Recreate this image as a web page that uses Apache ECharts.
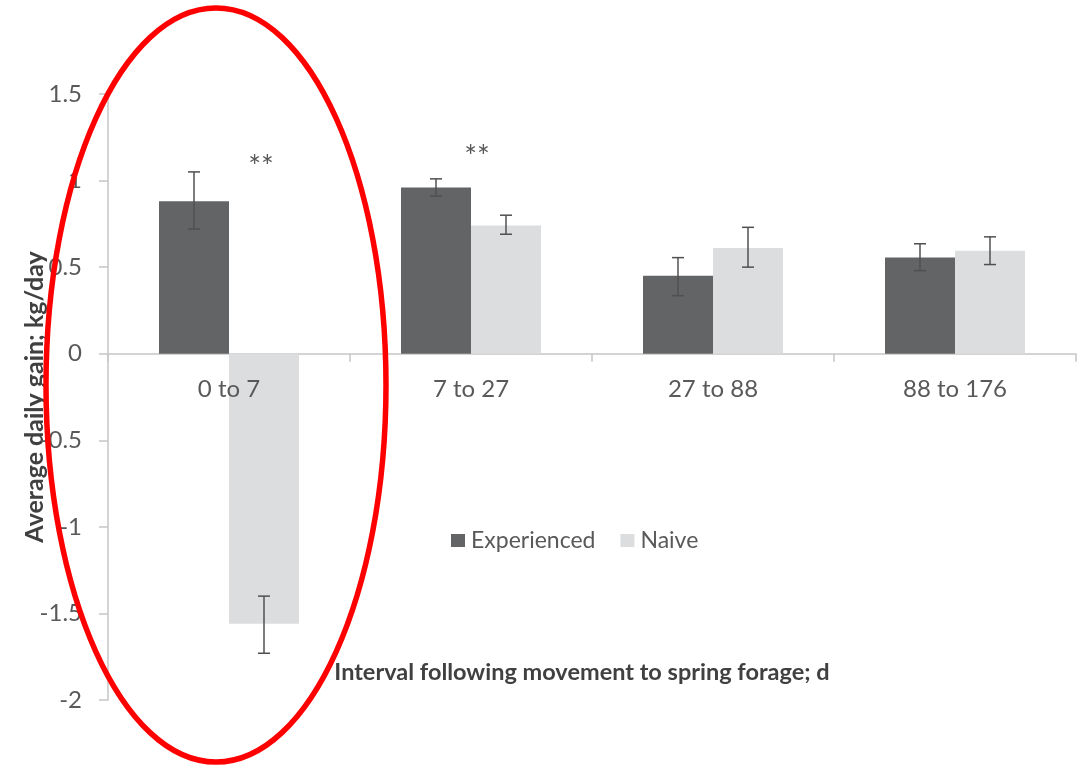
<!DOCTYPE html>
<html>
<head>
<meta charset="utf-8">
<script src="https://cdn.jsdelivr.net/npm/echarts@6/dist/echarts.min.js"></script>
<style>html,body{margin:0;padding:0;background:#fff;}#c{width:1084px;height:765px;}</style>
</head>
<body>
<div id="c"></div>
<script>
const categories = ['0 to 7', '7 to 27', '27 to 88', '88 to 176'];
const experienced = [0.88, 0.96, 0.45, 0.555];
const naive = [-1.56, 0.74, 0.61, 0.595];
const expLow = [0.72, 0.91, 0.335, 0.48];
const expHigh = [1.05, 1.01, 0.555, 0.635];
const naiveLow = [-1.73, 0.69, 0.50, 0.515];
const naiveHigh = [-1.40, 0.80, 0.73, 0.675];
const yTicks = [-2, -1.5, -1, -0.5, 0, 0.5, 1, 1.5];
// significance marks: [category index, y value, pixel x-offset from category centre]
const sigMarks = [[0, 1.11, 32], [1, 1.17, 6]];

const FONT = 'Lato';
const TXT = '#595959';
const AX = '#c6c6c6';
const BW = 70;

const chart = echarts.init(document.getElementById('c'), null, {renderer: 'canvas'});

function errItem(side) {
  return function (params, api) {
    const i = api.value(0);
    const off = side * BW / 2;
    const p1 = api.coord([i, api.value(1)]);
    const p2 = api.coord([i, api.value(2)]);
    const x = p1[0] + off;
    const cap = 6;
    const st = {stroke: '#505050', lineWidth: 1.5};
    return {type: 'group', children: [
      {type: 'line', shape: {x1: x, y1: p1[1], x2: x, y2: p2[1]}, style: st},
      {type: 'line', shape: {x1: x - cap, y1: p1[1], x2: x + cap, y2: p1[1]}, style: st},
      {type: 'line', shape: {x1: x - cap, y1: p2[1], x2: x + cap, y2: p2[1]}, style: st}
    ]};
  };
}

chart.setOption({
  animation: false,
  backgroundColor: '#ffffff',
  grid: {left: 108, right: 8, top: 94, bottom: 65, containLabel: false},
  legend: {
    data: ['Experienced', 'Naive'],
    left: 446, top: 524,
    itemWidth: 14, itemHeight: 13, itemGap: 25,
    icon: 'rect',
    textStyle: {fontFamily: FONT, fontSize: 23, color: TXT, padding: [0, 0, 0, 1]}
  },
  xAxis: {
    type: 'category',
    data: categories,
    axisLine: {onZero: true, lineStyle: {color: AX, width: 1.5}},
    axisTick: {show: true, length: 8, lineStyle: {color: AX, width: 1.5}},
    axisLabel: {show: false}
  },
  yAxis: {
    type: 'value',
    min: -2, max: 1.5, interval: 0.5,
    axisLine: {show: true, lineStyle: {color: AX, width: 1.5}},
    axisTick: {show: true, length: 9, lineStyle: {color: AX, width: 1.5}},
    splitLine: {show: false},
    axisLabel: {fontFamily: FONT, fontSize: 24, color: TXT, margin: 26,
      formatter: function (v) { return yTicks.indexOf(v) >= 0 ? String(v) : ''; }}
  },
  series: [
    {name: 'Experienced', type: 'bar', data: experienced, barWidth: BW, barGap: '0%',
      itemStyle: {color: '#636466'}},
    {name: 'Naive', type: 'bar', data: naive, barWidth: BW, barGap: '0%',
      itemStyle: {color: '#dcdddf'}},
    {type: 'custom', renderItem: errItem(-1), z: 5,
      data: categories.map((c, i) => [i, expLow[i], expHigh[i]])},
    {type: 'custom', renderItem: errItem(1), z: 5,
      data: categories.map((c, i) => [i, naiveLow[i], naiveHigh[i]])},
    {type: 'custom', z: 6,
      renderItem: function (params, api) {
        const p = api.coord([api.value(0), api.value(1)]);
        return {type: 'text', x: p[0] + api.value(2), y: p[1] + 6,
          style: {text: '**', fontFamily: FONT, fontSize: 30, fill: TXT, align: 'center', verticalAlign: 'middle'}};
      },
      data: sigMarks},
    {type: 'custom', z: 6,
      renderItem: function (params, api) {
        const i = api.value(0);
        const p = api.coord([i, 0]);
        return {type: 'text', x: p[0], y: p[1] + 36,
          style: {text: categories[i], fontFamily: FONT, fontSize: 24, fill: TXT, align: 'center', verticalAlign: 'middle'}};
      },
      data: categories.map((c, i) => [i, 0])}
  ],
  graphic: [
    {type: 'text', x: 582, y: 672, style: {text: 'Interval following movement to spring forage; d',
      fontFamily: FONT, fontSize: 23.5, fontWeight: 'bold', fill: '#404040', align: 'center', verticalAlign: 'middle'}},
    {type: 'text', x: 35, y: 397, rotation: Math.PI / 2, style: {text: 'Average daily gain; kg/day',
      fontFamily: FONT, fontSize: 25, fontWeight: 'bold', fill: '#404040', align: 'center', verticalAlign: 'middle'}},
    {type: 'ellipse', shape: {cx: 216, cy: 385, rx: 170, ry: 377},
      style: {fill: 'none', stroke: '#ff0000', lineWidth: 5.5}, z: 100}
  ]
});
</script>
</body>
</html>
